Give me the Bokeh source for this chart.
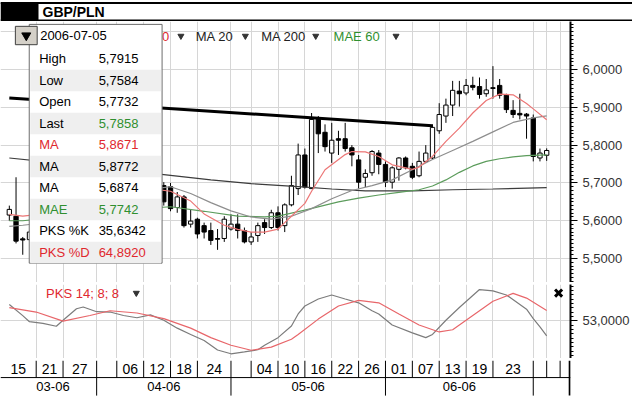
from bokeh.plotting import figure
from bokeh.layouts import column
from bokeh.models import Range1d, FixedTicker, ColumnDataSource, CustomJSTickFormatter, Grid
from bokeh.core.properties import value
from bokeh.embed import file_html
from bokeh.resources import INLINE

FONT = "Liberation Sans"

# ---------------- data ----------------
symbol = "GBP/PLN"
last_date = "2006-07-05"

# trading-day index: 0 = 2006-03-15 ... 80 = 2006-07-05
day_idx = list(range(81))
opens = [
    5.615, 5.612, 5.552, 5.550, 5.570, 5.595, 5.622, 5.640, 5.625, 5.660,
    5.684, 5.670, 5.690, 5.705, 5.688, 5.668, 5.682, 5.700, 5.680, 5.672,
    5.695, 5.676, 5.660, 5.693, 5.690, 5.635, 5.663, 5.591, 5.604, 5.587,
    5.574, 5.553, 5.553, 5.578, 5.591, 5.574, 5.544, 5.561, 5.595, 5.582,
    5.621, 5.587, 5.642, 5.685, 5.774, 5.685, 5.868, 5.834, 5.779, 5.817,
    5.817, 5.793, 5.761, 5.715, 5.727, 5.779, 5.749, 5.702, 5.736, 5.766,
    5.744, 5.719, 5.757, 5.766, 5.838, 5.877, 5.906, 5.943, 5.938, 5.958,
    5.955, 5.936, 5.952, 5.958, 5.932, 5.892, 5.884, 5.882, 5.872, 5.766,
    5.7732]
highs = [
    5.640, 5.715, 5.557, 5.575, 5.600, 5.630, 5.650, 5.660, 5.668, 5.690,
    5.700, 5.695, 5.715, 5.720, 5.700, 5.690, 5.710, 5.712, 5.695, 5.700,
    5.708, 5.690, 5.695, 5.702, 5.700, 5.676, 5.668, 5.629, 5.608, 5.595,
    5.595, 5.578, 5.612, 5.617, 5.617, 5.582, 5.570, 5.595, 5.604, 5.629,
    5.638, 5.646, 5.719, 5.804, 5.791, 5.885, 5.877, 5.855, 5.859, 5.838,
    5.859, 5.800, 5.774, 5.736, 5.787, 5.787, 5.757, 5.744, 5.768, 5.770,
    5.753, 5.783, 5.800, 5.855, 5.911, 5.923, 5.970, 5.970, 5.975, 5.981,
    5.979, 5.975, 6.009, 5.975, 5.936, 5.919, 5.936, 5.885, 5.881, 5.791,
    5.7915]
lows = [
    5.600, 5.540, 5.510, 5.548, 5.562, 5.585, 5.610, 5.615, 5.620, 5.650,
    5.662, 5.655, 5.675, 5.680, 5.660, 5.655, 5.672, 5.675, 5.660, 5.665,
    5.670, 5.650, 5.655, 5.640, 5.625, 5.621, 5.582, 5.582, 5.553, 5.553,
    5.536, 5.523, 5.544, 5.574, 5.553, 5.540, 5.536, 5.544, 5.565, 5.578,
    5.574, 5.570, 5.638, 5.668, 5.685, 5.685, 5.779, 5.783, 5.753, 5.774,
    5.783, 5.744, 5.685, 5.689, 5.719, 5.723, 5.689, 5.685, 5.706, 5.736,
    5.710, 5.715, 5.753, 5.761, 5.830, 5.859, 5.877, 5.902, 5.932, 5.945,
    5.923, 5.928, 5.923, 5.923, 5.885, 5.872, 5.868, 5.817, 5.757, 5.757,
    5.7584]
closes = [
    5.630, 5.546, 5.549, 5.570, 5.595, 5.622, 5.640, 5.625, 5.660, 5.684,
    5.670, 5.690, 5.705, 5.688, 5.668, 5.682, 5.700, 5.680, 5.672, 5.695,
    5.676, 5.660, 5.690, 5.650, 5.632, 5.663, 5.587, 5.599, 5.565, 5.570,
    5.548, 5.551, 5.604, 5.591, 5.574, 5.544, 5.557, 5.587, 5.582, 5.621,
    5.582, 5.642, 5.693, 5.774, 5.689, 5.868, 5.830, 5.796, 5.813, 5.813,
    5.791, 5.774, 5.702, 5.725, 5.783, 5.749, 5.702, 5.740, 5.766, 5.740,
    5.715, 5.757, 5.779, 5.847, 5.881, 5.906, 5.945, 5.936, 5.958, 5.953,
    5.934, 5.946, 5.950, 5.932, 5.894, 5.881, 5.880, 5.877, 5.770, 5.779,
    5.7858]

ma10_idx = [0, 2, 6, 10, 14, 18, 21, 24, 27, 29, 32, 34, 36, 38, 40, 41, 42, 44, 45, 47,
            50, 51, 53, 55, 57, 60, 61, 63, 65, 67, 69, 71, 73, 75, 77, 78, 80]
ma10_val = [5.617, 5.612, 5.620, 5.640, 5.670, 5.685, 5.685, 5.678, 5.652, 5.618,
            5.588, 5.577, 5.570, 5.570, 5.578, 5.595, 5.612, 5.646, 5.678, 5.735,
            5.775, 5.783, 5.782, 5.770, 5.748, 5.736, 5.742, 5.770, 5.810, 5.845,
            5.885, 5.918, 5.935, 5.933, 5.910, 5.896, 5.8671]

ma20_idx = [0, 2, 8, 14, 20, 24, 27, 30, 33, 36, 39, 42, 45, 48, 51, 54, 57, 60, 63,
            66, 69, 72, 75, 78, 80]
ma20_val = [5.585, 5.588, 5.600, 5.640, 5.680, 5.690, 5.672, 5.648, 5.626, 5.610,
            5.604, 5.612, 5.632, 5.658, 5.680, 5.693, 5.708, 5.735, 5.762, 5.786,
            5.810, 5.835, 5.860, 5.872, 5.8772]

ma200_idx = [0, 6, 12, 18, 24, 30, 36, 43, 48, 53, 60, 66, 72, 80]
ma200_val = [5.766, 5.755, 5.744, 5.732, 5.720, 5.708, 5.698, 5.690, 5.684, 5.679,
             5.679, 5.682, 5.684, 5.6874]

mae60_idx = [0, 2, 10, 18, 24, 29, 34, 38, 40, 44, 49, 52, 55, 58, 61, 63, 65, 67,
             69, 71, 73, 75, 77, 80]
mae60_val = [5.600, 5.600, 5.615, 5.630, 5.637, 5.625, 5.612, 5.610, 5.612, 5.628,
             5.650, 5.660, 5.668, 5.675, 5.682, 5.692, 5.708, 5.728, 5.745, 5.757,
             5.764, 5.769, 5.772, 5.7742]

trend_idx = [0, 63]
trend_val = [5.925, 5.851]

pk_idx = [0, 2, 3, 5, 7, 8, 10, 11, 13, 15, 17, 19, 21, 23, 25, 27, 29, 31, 33, 35,
          37, 38, 40, 42, 43, 44, 46, 48, 50, 52, 54, 55, 57, 60, 62, 63, 65, 67,
          70, 72, 74, 77, 78, 79, 80]
pk_val = [72.0, 59.0, 52.0, 50.0, 46.7, 53.7, 67.0, 69.0, 63.6, 63.2, 59.2, 56.6,
          59.9, 53.7, 44.5, 37.2, 30.2, 19.2, 14.8, 17.0, 19.5, 24.7, 33.5, 47.0,
          61.0, 70.2, 78.3, 83.0, 78.3, 73.9, 64.7, 61.0, 48.2, 39.0, 33.5, 37.2,
          53.7, 68.4, 89.3, 87.8, 83.0, 66.5, 55.5, 46.0, 35.6342]

pd_idx = [0, 4, 8, 12, 15, 19, 23, 27, 30, 33, 36, 39, 42, 43, 46, 49, 52, 55, 58,
          61, 64, 66, 69, 72, 75, 77, 80]
pd_val = [68.4, 63.2, 52.6, 59.2, 64.7, 62.1, 55.5, 44.5, 33.5, 24.7, 18.9, 22.5,
          31.7, 37.2, 55.0, 70.2, 76.8, 73.9, 61.0, 48.2, 40.1, 42.7, 59.2, 75.7,
          84.9, 79.4, 64.8920]

price_ticks = [5.5, 5.6, 5.7, 5.8, 5.9, 6.0]
price_grid = [5.5, 5.6, 5.7, 5.8, 5.9, 6.0, 6.1]
osc_ticks = [53.0]

day_grid_idx = [4, 8, 13, 16, 20, 24, 28, 33, 36, 40, 44, 48, 52, 56, 60, 64, 68, 72, 78, 80, 82]
day_box_labels = ["15", "21", "27", "", "06", "12", "18", "24", "", "04", "10", "16",
                  "22", "26", "01", "07", "13", "19", "23", "", "", ""]
month_start_idx = [0, 13, 33, 56, 78]
month_labels = ["03-06", "04-06", "05-06", "06-06", ""]

indicator_names = ["MA 10", "MA 20", "MA 200", "MAE 60"]
indicator_colors = ["#e0282e", "#222222", "#222222", "#2f8f2f"]

# ---------------- layout helpers ----------------
W = 632
RIGHT = 57
FRAME_W = W - RIGHT
PX_DAY = 6.776
X_LEFT = -1.313
X_RIGHT = X_LEFT + FRAME_W / PX_DAY

RED = "#e0282e"
GREEN = "#2f8f2f"
GRID = "#d6d6d6"


def ix(px):
    return X_LEFT + px / PX_DAY


def pv(py):
    return 6.0 - (py - 71.7) / 391.0


def po(py):
    return 53.0 - (py - 332.3) * 1.1


def fmt(v, nd=4):
    return f"{v:.{nd}f}".replace(".", ",")


def no_align(p):
    try:
        p.frame_align = False
    except Exception:
        pass


def style_right_axis(ax):
    ax.axis_line_width = 2
    ax.axis_line_color = "black"
    ax.major_tick_in = 0
    ax.major_tick_out = 7
    ax.minor_tick_in = 0
    ax.minor_tick_out = 3
    ax.major_tick_line_color = "black"
    ax.minor_tick_line_color = "black"
    ax.major_label_text_font = FONT
    ax.major_label_text_font_size = "13px"
    ax.major_label_text_color = "#333333"
    ax.major_label_standoff = 5
    ax.formatter = CustomJSTickFormatter(code="return tick.toFixed(4).replace('.', ',');")


def txt(p, x, y, s, color="black", size="13px", align="left", bold=False):
    p.text(x=[x], y=[y], text=[s], text_color=color, text_font=value(FONT),
           text_font_size=value(size), text_align=align, text_baseline="middle",
           text_font_style="bold" if bold else "normal")


def black_bar(h):
    s = figure(width=W, height=h, x_range=Range1d(0, 1), y_range=Range1d(0, 1),
               output_backend="svg", toolbar_location=None,
               x_axis_location=None, y_axis_location=None, min_border=0,
               outline_line_color=None, background_fill_color="black",
               border_fill_color="black")
    s.xgrid.visible = False
    s.ygrid.visible = False
    s.quad(left=[0], right=[1], top=[1], bottom=[0], fill_color="black", line_color=None)
    no_align(s)
    return s


xr = Range1d(X_LEFT, X_RIGHT)

# ---------------- title bar ----------------
tp = figure(width=W, height=21, x_range=Range1d(0, W), y_range=Range1d(22, 0),
            output_backend="svg", toolbar_location=None,
            x_axis_location=None, y_axis_location=None, min_border=0,
            outline_line_color=None)
no_align(tp)
tp.xgrid.visible = False
tp.ygrid.visible = False
tp.quad(left=[0], right=[38], top=[2], bottom=[21], fill_color="black", line_color=None)
tp.segment(x0=[0, 0], y0=[2.5, 21], x1=[W, W], y1=[2.5, 21], line_color="black", line_width=2)
txt(tp, 42, 12, symbol, size="14px", bold=True)

# ---------------- main price panel ----------------
main = figure(width=W, height=261, x_range=xr, y_range=Range1d(pv(292), pv(22)),
              output_backend="svg", toolbar_location=None,
              x_axis_location=None, y_axis_location="right",
              min_border_left=0, min_border_right=RIGHT, min_border_top=0, min_border_bottom=0,
              outline_line_color=None, background_fill_color="white")
main.xgrid.visible = False
vg = Grid(dimension=0, ticker=FixedTicker(ticks=day_grid_idx), grid_line_color=GRID, grid_line_width=1)
main.add_layout(vg)
ya = main.yaxis[0]
ya.ticker = FixedTicker(ticks=price_ticks,
                        minor_ticks=[round(5.43 + 0.01 * k, 2) for k in range(71)])
style_right_axis(ya)
main.ygrid.ticker = FixedTicker(ticks=price_grid)
main.ygrid.grid_line_color = GRID

src = ColumnDataSource(dict(i=day_idx, o=opens, h=highs, l=lows, c=closes))
main.segment(x0="i", y0="l", x1="i", y1="h", source=src, line_color="black", line_width=1)
up = [k for k in day_idx if closes[k] >= opens[k]]
dn = [k for k in day_idx if closes[k] < opens[k]]
main.vbar(x=up, width=0.64, bottom=[opens[k] for k in up], top=[closes[k] for k in up],
          fill_color="white", line_color="black", line_width=1)
main.vbar(x=dn, width=0.64, bottom=[closes[k] for k in dn], top=[opens[k] for k in dn],
          fill_color="black", line_color="black", line_width=1)

main.line(ma200_idx, ma200_val, line_color="#3c3c3c", line_width=1.2)
main.line(mae60_idx, mae60_val, line_color="#5c9c5c", line_width=1.2)
main.line(ma20_idx, ma20_val, line_color="#8e8e8e", line_width=1.2)
main.line(ma10_idx, ma10_val, line_color="#ec7676", line_width=1.2)
main.line(trend_idx, trend_val, line_color="black", line_width=3)

# indicator legend row
leg_x = [133, 197, 263, 336]
arr_x = [182, 247, 318, 399]
for name, col, lx in zip(indicator_names, indicator_colors, leg_x):
    txt(main, ix(lx), pv(37), name, color=col)
main.scatter(x=[ix(a) for a in arr_x], y=[pv(37)] * 4, marker="inverted_triangle",
             size=6, fill_color="#333333", line_color="#333333")

# info overlay
main.quad(left=[ix(29)], right=[ix(163)], top=[pv(25)], bottom=[pv(272)],
          fill_color="white", line_color="#6d6d6d", line_width=1)
row_labels = ["High", "Low", "Open", "Last", "MA", "MA", "MA", "MAE", "PKS %K", "PKS %D"]
row_values = [fmt(highs[-1]), fmt(lows[-1]), fmt(opens[-1]), fmt(closes[-1]),
              fmt(ma10_val[-1]), fmt(ma20_val[-1]), fmt(ma200_val[-1]), fmt(mae60_val[-1]),
              fmt(pk_val[-1]), fmt(pd_val[-1])]
lab_cols = ["black", "black", "black", "black", RED, "black", "black", GREEN, "black", RED]
val_cols = ["black", "black", "black", GREEN, RED, "black", "black", GREEN, "black", RED]
row_y = [60.7 + 22.24 * k for k in range(10)]
shade = [k for k in range(10) if k % 2 == 1]
main.quad(left=[ix(30)] * len(shade), right=[ix(162)] * len(shade),
          top=[pv(row_y[k] - 11.1) for k in shade], bottom=[pv(row_y[k] + 11.1) for k in shade],
          fill_color="#efefef", line_color=None)
for k in range(10):
    txt(main, ix(39), pv(row_y[k]), row_labels[k], color=lab_cols[k])
    txt(main, ix(99), pv(row_y[k]), row_values[k], color=val_cols[k])
txt(main, ix(40), pv(36.5), last_date)
main.quad(left=[ix(15)], right=[ix(37)], top=[pv(27)], bottom=[pv(46)],
          fill_color="#d4d0c8", line_color="#404040", line_width=1)
main.scatter(x=[ix(26)], y=[pv(36.5)], marker="inverted_triangle", size=9,
             fill_color="black", line_color="black")

# ---------------- oscillator panel ----------------
osc = figure(width=W, height=74, x_range=xr, y_range=Range1d(po(372), po(294)),
             output_backend="svg", toolbar_location=None,
             x_axis_location=None, y_axis_location="right",
             min_border_left=0, min_border_right=RIGHT, min_border_top=0, min_border_bottom=0,
             outline_line_color=None, background_fill_color="white")
osc.xgrid.visible = False
vg2 = Grid(dimension=0, ticker=FixedTicker(ticks=day_grid_idx), grid_line_color=GRID, grid_line_width=1)
osc.add_layout(vg2)
oa = osc.yaxis[0]
oa.ticker = FixedTicker(ticks=osc_ticks, minor_ticks=[8 + 5 * k for k in range(18)])
style_right_axis(oa)
osc.ygrid.grid_line_color = GRID
osc.line(pk_idx, pk_val, line_color="#7c7c7c", line_width=1.2)
osc.line(pd_idx, pd_val, line_color="#e8666a", line_width=1.2)
txt(osc, ix(46), po(303), "PKS 14; 8; 8", color=RED)
osc.scatter(x=[ix(137)], y=[po(303)], marker="inverted_triangle", size=6,
            fill_color="#333333", line_color="#333333")
osc.scatter(x=[ix(563)], y=[po(303)], marker="x", size=10, line_color="black", line_width=3)

# ---------------- date axis (aligned with the chart frame) ----------------
dp = figure(width=W, height=37, x_range=xr, y_range=Range1d(413, 374),
            output_backend="svg", toolbar_location=None,
            x_axis_location=None, y_axis_location=None,
            min_border_left=0, min_border_right=RIGHT, min_border_top=0, min_border_bottom=0,
            outline_line_color=None)
dp.xgrid.visible = False
dp.ygrid.visible = False
dp.segment(x0=[X_LEFT], y0=[392], x1=[X_RIGHT], y1=[392], line_color="black", line_width=1)
dp.segment(x0=day_grid_idx, y0=[374] * len(day_grid_idx), x1=day_grid_idx,
           y1=[392] * len(day_grid_idx), line_color="black", line_width=1)
dp.segment(x0=month_start_idx[1:], y0=[392] * 4, x1=month_start_idx[1:], y1=[411] * 4,
           line_color="black", line_width=1)
dp.segment(x0=[X_RIGHT - 0.12], y0=[374], x1=[X_RIGHT - 0.12], y1=[411],
           line_color="black", line_width=2)

bounds = [X_LEFT] + day_grid_idx + [X_RIGHT]
dcx = [(bounds[k] + bounds[k + 1]) / 2 for k in range(len(day_box_labels))]
dp.text(x=dcx, y=[383] * len(dcx), text=day_box_labels, text_color="black",
        text_font=value(FONT), text_font_size=value("14px"), text_align="center",
        text_baseline="middle")
mb = month_start_idx + [X_RIGHT]
mcx = [(mb[k] + mb[k + 1]) / 2 for k in range(len(month_labels))]
dp.text(x=mcx, y=[401] * len(mcx), text=month_labels, text_color="black",
        text_font=value(FONT), text_font_size=value("13px"), text_align="center",
        text_baseline="middle")

layout = column(tp, main, black_bar(2), osc, black_bar(2), dp, spacing=0)
open("out.html", "w").write(file_html(layout, INLINE))
